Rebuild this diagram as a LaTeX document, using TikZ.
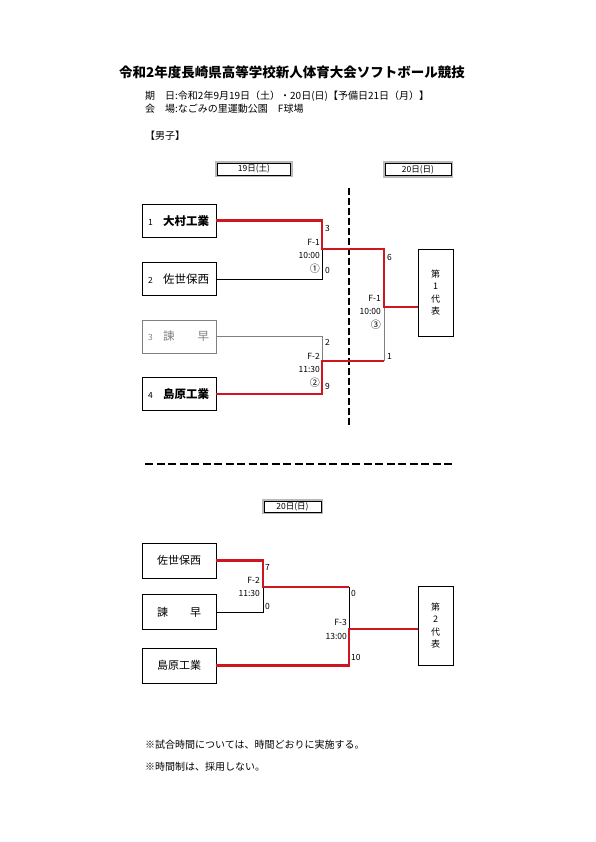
\documentclass[tikz,border=0pt]{standalone}
\usepackage{fontspec}
\setmainfont{Noto Sans CJK JP}
\usetikzlibrary{positioning}

\definecolor{winred}{RGB}{205,22,32}

\newcommand{\circnum}[1]{{\fontsize{10}{10}\selectfont #1}}

\tikzset{
  team/.style    = {draw, minimum width=74pt, minimum height=33pt, inner xsep=6pt, inner ysep=0pt,
                    text width=62pt, align=left, font=\fontsize{11.5}{13}\selectfont},
  lowteam/.style = {team, minimum height=35pt, align=center, font=\fontsize{11}{13}\selectfont},
  rep/.style     = {draw, minimum width=35pt, inner sep=0pt, align=center, font=\fontsize{9}{12.5}\selectfont},
  daybox/.style  = {draw, fill=white, line width=0.8pt, minimum height=12pt, inner sep=0pt,
                    preaction={draw=gray!55, line width=4.4pt},
                    font=\fontsize{8.5}{9}\selectfont},
  win/.style     = {draw=winred, line width=2.5pt},
  lose/.style    = {draw=black, line width=0.7pt},
  elim/.style    = {draw=gray, line width=0.7pt},
  lbl/.style     = {inner sep=0pt, font=\fontsize{8.5}{13.5}\selectfont},
}

\begin{document}
\begin{tikzpicture}[x=1pt, y=-1pt]
\useasboundingbox (0,0) rectangle (595,842);

% header
\node [font=\fontsize{13.5}{15}\selectfont\bfseries] (title) at (292,72) {令和2年度長崎県高等学校新人体育大会ソフトボール競技};
\node [anchor=west, font=\fontsize{10}{13}\selectfont, align=left, inner sep=0pt] (info) at (145,102.5)
  {期　日:令和2年9月19日（土）・20日(日)【予備日21日（月）】\\会　場:なごみの里運動公園　F球場};
\node [anchor=west, font=\fontsize{10}{11}\selectfont, inner sep=0pt] (boys) at (145,136) {【男子】};

% day 1 and 2
\node [daybox, minimum width=73pt] (day1) at (254,169) {19日(土)};
\node [daybox, minimum width=66pt] (day2) at (418,169.5) {20日(日)};
\draw [line width=1.6pt, dash pattern=on 7pt off 3pt] (349,188) -- (349,428);

\node [team, anchor=north west    ] (t1) at (142,204) {\makebox[15pt][l]{\fontsize{8.5}{9}\selectfont 1}\textbf{大村工業}};
\node [team, below=25pt of t1     ] (t2) {\makebox[15pt][l]{\fontsize{8.5}{9}\selectfont 2}佐世保西};
\node [team, below=24pt of t2, draw=gray, text=gray] (t3) {\makebox[15pt][l]{\fontsize{8.5}{9}\selectfont 3}諫　　早};
\node [team, below=24pt of t3     ] (t4) {\makebox[15pt][l]{\fontsize{8.5}{9}\selectfont 4}\textbf{島原工業}};
\node [rep, minimum height=87pt, anchor=north west] (r1) at (418,249) {第\\1\\代\\表};

\coordinate (f1) at (322,249);
\coordinate (f2) at (322,361);
\coordinate (f3) at (384,307);

\draw [lose] (t2.east) -| (f1);
\draw [elim] (t3.east) -| (f2);
\draw [elim] (f2 -| f3) -- (f3);
\draw [win ] (t1.east) -| (f1) -| (f3) -- (f3 -| r1.west);
\draw [win ] (t4.east) -| (f2) -- (f2 -| f3);

\node [lbl, anchor=west] (s1) at (325,228) {3};
\node [lbl, anchor=west] (s2) at (325,270) {0};
\node [lbl, anchor=west] (s3) at (325,342) {2};
\node [lbl, anchor=west] (s4) at (325,386) {9};
\node [lbl, anchor=west] (s5) at (387,257) {6};
\node [lbl, anchor=west] (s6) at (387,356) {1};
\node [lbl, anchor=east, align=right] (m1) at (320,256) {F-1\\10:00\\\circnum{①}};
\node [lbl, anchor=east, align=right] (m2) at (320,370) {F-2\\11:30\\\circnum{②}};
\node [lbl, anchor=east, align=right] (m3) at (381,312) {F-1\\10:00\\\circnum{③}};

\draw [line width=1.5pt, dash pattern=on 8pt off 3.5pt] (145,464) -- (453,464);

% day 2, second place
\node [daybox, minimum width=57pt, minimum height=11pt] (day3) at (292.5,506.5) {20日(日)};

\node [lowteam, anchor=north west] (b1) at (142,543) {佐世保西};
\node [lowteam, below=16pt of b1 ] (b2) {諫　　早};
\node [lowteam, below=18pt of b2 ] (b3) {島原工業};
\node [rep, minimum height=79pt, anchor=north west] (r2) at (418,586) {第\\2\\代\\表};

\coordinate (g2) at (263,587);
\coordinate (g3) at (349,629);

\draw [lose] (b2.east) -| (g2);
\draw [lose] (g2 -| g3) -- (g3);
\draw [win ] (b1.east) -| (g2) -- (g2 -| g3);
\draw [win ] (b3.east) -| (g3) -- (g3 -| r2.west);

\node [lbl, anchor=west] (u1) at (265,567) {7};
\node [lbl, anchor=west] (u2) at (265,606) {0};
\node [lbl, anchor=west] (u3) at (351,593) {0};
\node [lbl, anchor=west] (u4) at (351,657) {10};
\node [lbl, anchor=east, align=right] (n1) at (260,587) {F-2\\11:30};
\node [lbl, anchor=east, align=right] (n2) at (347,629.5) {F-3\\13:00};

% notes
\node [anchor=west, inner sep=0pt, font=\fontsize{10}{22}\selectfont, align=left] (notes) at (145,756)
  {※試合時間については、時間どおりに実施する。\\※時間制は、採用しない。};

\end{tikzpicture}
\end{document}
